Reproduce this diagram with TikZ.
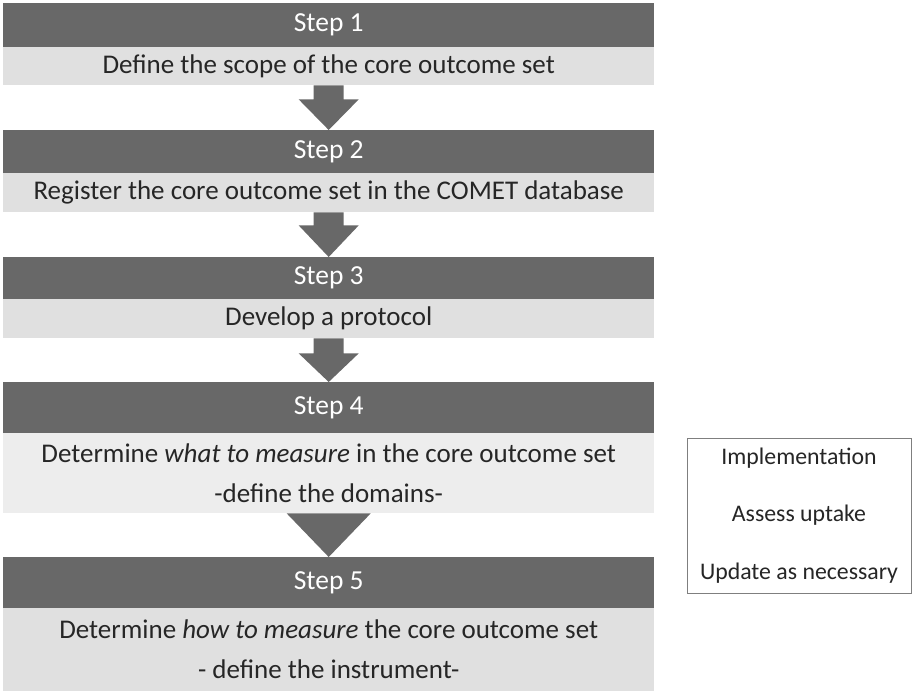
\documentclass[tikz,border=0pt]{standalone}
\usepackage{fontspec}
\setmainfont{Carlito}
\usetikzlibrary{calc}
\definecolor{darkbar}{HTML}{686868}
\definecolor{lightbar}{HTML}{E0E0E0}
\definecolor{lightbarB}{HTML}{EDEDED}
\definecolor{boxgray}{HTML}{7F7F7F}
\definecolor{textdark}{HTML}{262626}
\newcommand\myblockarrow[4]{% from node, to node, shaft length, dummy
  \fill[darkbar] ($(#1.south)+(-15,0)$) -- ($(#1.south)+(15,0)$) -- ($(#1.south)+(15,#3)$) -- ($(#1.south)+(30,#3)$) -- (#2.north) -- ($(#1.south)+(-30,#3)$) -- ($(#1.south)+(-15,#3)$) -- cycle;}
\begin{document}
\begin{tikzpicture}[x=1pt,y=-1pt,
  hdr/.style={fill=darkbar, text=white, minimum width=651pt, inner sep=0pt, font=\fontsize{27.5}{30}\selectfont, anchor=north west},
  body/.style={fill=lightbar, text=textdark, minimum width=651pt, inner sep=0pt, align=center, font=\fontsize{27}{40}\selectfont, anchor=north west},
  sidebox/.style={draw=boxgray, line width=0.9pt, fill=white, text=textdark, minimum width=224pt, minimum height=155pt, inner sep=0pt, align=center, font=\fontsize{23.8}{57.5}\selectfont}]
\useasboundingbox (0,0) rectangle (912,693);
\fill[white] (0,0) rectangle (912,693);
\node[hdr, minimum height=44pt] (h1) at (3,3) {Step 1};
\node[body, minimum height=38pt] (b1) at (3,47) {Define the scope of the core outcome set};
\node[hdr, minimum height=43pt] (h2) at (3,130) {Step 2};
\node[body, minimum height=39pt] (b2) at (3,173) {Register the core outcome set in the COMET database};
\node[hdr, minimum height=42pt] (h3) at (3,257) {Step 3};
\node[body, minimum height=39pt] (b3) at (3,299) {Develop a protocol};
\node[hdr, minimum height=51pt] (h4) at (3,382) {Step 4};
\node[body, fill=lightbarB, minimum height=80pt] (b4) at (3,433) {Determine \textit{what to measure} in the core outcome set\\-define the domains-};
\node[hdr, minimum height=51pt] (h5) at (3,557) {Step 5};
\node[body, minimum height=83pt] (b5) at (3,608) {Determine \textit{how to measure} the core outcome set\\- define the instrument-};
\myblockarrow{b1}{h2}{14}{}
\myblockarrow{b2}{h3}{13}{}
\myblockarrow{b3}{h4}{15}{}
\fill[darkbar] ($(b4.south)+(-42,0)$) -- ($(b4.south)+(42,0)$) -- (h5.north) -- cycle;
\node[sidebox] (impl) at (799,515.5) {Implementation\\Assess uptake\\Update as necessary};
\end{tikzpicture}
\end{document}
